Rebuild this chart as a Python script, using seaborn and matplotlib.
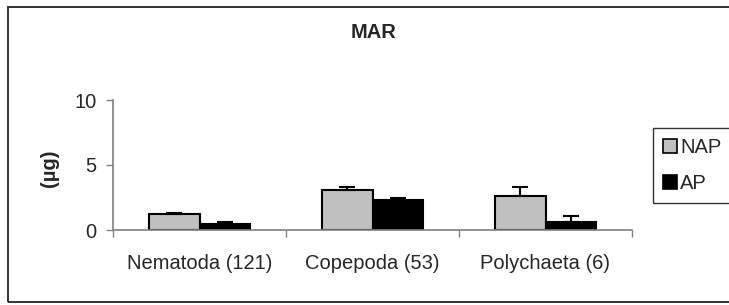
import matplotlib
matplotlib.use("Agg")
import matplotlib.pyplot as plt
from matplotlib.patches import Rectangle
import seaborn as sns
import pandas as pd

categories = ["Nematoda (121)", "Copepoda (53)", "Polychaeta (6)"]
series = ["NAP", "AP"]
nap_values = [1.25, 3.05, 2.6]
ap_values = [0.5, 2.3, 0.65]
nap_err = [0.03, 0.28, 0.72]
ap_err = [0.14, 0.13, 0.45]
colors = {"NAP": "#C0C0C0", "AP": "#000000"}

df = pd.DataFrame({
    "group": categories * 2,
    "series": ["NAP"] * 3 + ["AP"] * 3,
    "value": nap_values + ap_values,
})

sns.set_theme(style="white")
plt.rcParams["font.family"] = ["Liberation Sans", "DejaVu Sans"]
FS = 14.5

W, H = 729, 305
fig = plt.figure(figsize=(W / 100, H / 100), dpi=100)
ax = fig.add_axes([113 / W, 1 - 230 / H, (632 - 113) / W, 130 / H])

sns.barplot(data=df, x="group", y="value", hue="series", order=categories,
            hue_order=series, palette=colors, width=0.58, gap=0,
            edgecolor="black", linewidth=1.5, errorbar=None, legend=False, ax=ax)

errs = {"NAP": nap_err, "AP": ap_err}
vals = {"NAP": nap_values, "AP": ap_values}
for s, cont in zip(series, ax.containers):
    xs = [p.get_x() + p.get_width() / 2 for p in cont.patches]
    ax.errorbar(xs, vals[s], yerr=[[0] * 3, errs[s]], fmt="none",
                ecolor="black", elinewidth=1.5, capsize=5.5, capthick=1.5, zorder=5)

ax.set_ylim(0, 10)
ax.set_xlim(-0.5, 2.5)
ax.set_yticks([0, 5, 10])
ax.set_yticklabels(["0", "5", "10"], fontsize=FS)
ax.set_xticks([-0.5, 0.5, 1.5, 2.5])
ax.set_xticklabels([])
ax.set_xticks([0, 1, 2], minor=True)
ax.set_xticklabels(categories, minor=True, fontsize=FS)
ax.tick_params(axis="x", which="major", direction="out", length=5, width=1, color="#808080", bottom=True)
ax.tick_params(axis="x", which="minor", length=0, pad=17, bottom=True)
ax.tick_params(axis="y", direction="out", length=5, width=1, color="#808080", left=True, pad=7)
for side in ["top", "right"]:
    ax.spines[side].set_visible(False)
for side in ["left", "bottom"]:
    ax.spines[side].set_color("#808080")
    ax.spines[side].set_linewidth(1.2)
ax.set_xlabel("")
ax.set_ylabel("(µg)", fontsize=FS, fontweight="bold", va="center")
ax.yaxis.set_label_coords((49 - 113) / (632 - 113), (230 - 168) / 130)

fig.text(374 / W, 1 - 32 / H, "MAR", ha="center", va="center",
         fontsize=FS, fontweight="bold")

handles = [Rectangle((0, 0), 1, 1, facecolor=colors[s], edgecolor="black", lw=1.2) for s in series]
leg = fig.legend(handles, series, loc="center left",
                 bbox_to_anchor=(653 / W, 1 - 165.5 / H), fontsize=FS,
                 frameon=True, fancybox=False, edgecolor="black",
                 handlelength=0.7, handleheight=0.7, handletextpad=0.15,
                 labelspacing=0.85, borderpad=0.5, borderaxespad=0)
leg.get_frame().set_linewidth(1.0)

fig.add_artist(Rectangle((8 / W, 1 - 302 / H), 1.0, (302 - 7) / H,
                         transform=fig.transFigure, fill=False,
                         edgecolor="#333333", lw=1.4))

fig.savefig("out.png", dpi=100)
